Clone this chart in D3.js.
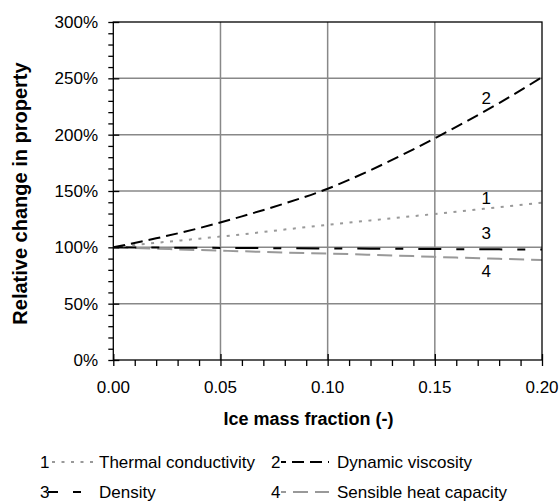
<!DOCTYPE html>
<html>
<head>
<meta charset="utf-8">
<script src="https://cdn.jsdelivr.net/npm/d3@7"></script>
<style>
  html, body { margin: 0; padding: 0; background: #fff; }
  svg { display: block; font-family: "Liberation Sans", Arial, sans-serif; }
</style>
</head>
<body>
<svg id="chart" width="559" height="502"></svg>
<script>
// Ice mass fraction (-) sampled along the x axis
const iceFraction = [0, 0.02, 0.04, 0.06, 0.08, 0.10, 0.12, 0.14, 0.16, 0.18, 0.20];

// Relative change of each property (%) at the ice fractions above
const thermalConductivity = [100, 104, 107.7, 111.5, 115.8, 120, 123.9, 127.7, 131.6, 135.6, 139.7];
const dynamicViscosity    = [100, 108, 117, 127.5, 139, 152, 168.5, 187, 207, 228, 251];
const density             = [100, 99.8, 99.6, 99.4, 99.2, 99.0, 98.8, 98.6, 98.4, 98.2, 98.0];
const sensibleHeatCap     = [100, 98.8, 97.6, 96.5, 95.4, 94.5, 93.4, 92.2, 90.9, 89.8, 88.7];

const seriesNames = ["Thermal conductivity", "Dynamic viscosity", "Density", "Sensible heat capacity"];
const seriesNumbers = ["1", "2", "3", "4"];

// Tick values
const xTicks = [0, 0.05, 0.10, 0.15, 0.20];
const yTicks = [0, 50, 100, 150, 200, 250, 300];

// Curve number labels placed next to each line: [x, y%]
const curveLabelPos = [[0.174, 143.7], [0.174, 232.5], [0.174, 112.7], [0.174, 79]];

const svg = d3.select("#chart");
const plotLeft = 113.3, plotRight = 542, plotTop = 22, plotBottom = 360;

const x = d3.scaleLinear().domain([0, 0.20]).range([plotLeft, plotRight]);
const y = d3.scaleLinear().domain([0, 300]).range([plotBottom, plotTop]);

// Grid lines
const grid = svg.append("g");
grid.selectAll("line.gx").data(xTicks.slice(1, -1)).join("line")
  .attr("x1", d => x(d)).attr("x2", d => x(d))
  .attr("y1", plotTop).attr("y2", plotBottom)
  .attr("stroke", "#888").attr("stroke-width", 1.5);
grid.selectAll("line.gy").data(yTicks.slice(1, -1)).join("line")
  .attr("x1", plotLeft).attr("x2", plotRight)
  .attr("y1", d => y(d)).attr("y2", d => y(d))
  .attr("stroke", "#888").attr("stroke-width", 1.5);

// Series styles
const styles = [
  { values: thermalConductivity, color: "#999", dash: "3,6.5", width: 2 },
  { values: dynamicViscosity,    color: "#000", dash: "12,6",  width: 2 },
  { values: density,             color: "#000", dash: "23,15,8,15", width: 2 },
  { values: sensibleHeatCap,     color: "#999", dash: "15,7",  width: 2 }
];

const line = d3.line().curve(d3.curveMonotoneX);

// Draw in order 4, 3, 1, 2 so dark lines stay on top
[3, 2, 0, 1].forEach(i => {
  const s = styles[i];
  svg.append("path")
    .attr("d", line(iceFraction.map((f, k) => [x(f), y(s.values[k])])))
    .attr("fill", "none")
    .attr("stroke", s.color)
    .attr("stroke-width", s.width)
    .attr("stroke-dasharray", s.dash);
});

// Plot frame
svg.append("rect")
  .attr("x", plotLeft).attr("y", plotTop)
  .attr("width", plotRight - plotLeft).attr("height", plotBottom - plotTop)
  .attr("fill", "none").attr("stroke", "#000").attr("stroke-width", 1.3);

// X axis
const xAxis = d3.axisBottom(x).tickValues(d3.range(0, 0.2001, 0.01)).tickSize(6).tickFormat("");
const gx = svg.append("g").attr("transform", `translate(0,${plotBottom})`).call(xAxis);
gx.select(".domain").remove();
gx.selectAll("line").attr("stroke", "#000").attr("stroke-width", 1.3);
gx.selectAll(".tick").filter(d => xTicks.some(t => Math.abs(t - d) < 1e-9))
  .select("line").attr("y1", -6).attr("y2", 6);
svg.append("g").selectAll("text").data(xTicks).join("text")
  .attr("x", d => x(d)).attr("y", 393)
  .attr("text-anchor", "middle").attr("font-size", 17)
  .text(d => d3.format(".2f")(d));

// Y axis
const yAxis = d3.axisLeft(y).tickValues(d3.range(0, 301, 10)).tickSize(5).tickFormat("");
const gy = svg.append("g").attr("transform", `translate(${plotLeft},0)`).call(yAxis);
gy.select(".domain").remove();
gy.selectAll("line").attr("stroke", "#000").attr("stroke-width", 1.3);
gy.selectAll(".tick").filter(d => yTicks.includes(d))
  .select("line").attr("x1", 6).attr("x2", -5);
svg.append("g").selectAll("text").data(yTicks).join("text")
  .attr("x", 98).attr("y", d => y(d)).attr("dy", "0.36em")
  .attr("text-anchor", "end").attr("font-size", 17)
  .text(d => d + "%");

// Axis titles
svg.append("text")
  .attr("x", 308.5).attr("y", 425)
  .attr("text-anchor", "middle").attr("font-size", 18).attr("font-weight", "bold")
  .text("Ice mass fraction (-)");
svg.append("text")
  .attr("transform", "translate(27,193.5) rotate(-90)")
  .attr("text-anchor", "middle").attr("font-size", 20).attr("font-weight", "bold")
  .text("Relative change in property");

// Curve number labels
svg.append("g").selectAll("text").data(curveLabelPos).join("text")
  .attr("x", d => x(d[0])).attr("y", d => y(d[1])).attr("dy", "0.36em")
  .attr("text-anchor", "middle").attr("font-size", 17)
  .text((d, i) => seriesNumbers[i]);

// Legend
const legendItems = [
  { num: 40,  lx1: 52,  lx2: 96,  tx: 99,  y: 462, off: 0 },
  { num: 271, lx1: 281, lx2: 329, tx: 337, y: 462, off: 7 },
  { num: 40,  lx1: 48,  lx2: 96,  tx: 99,  y: 492, off: 13 },
  { num: 271, lx1: 281, lx2: 329, tx: 337, y: 492, off: 10 }
];
const lg = svg.append("g");
legendItems.forEach((it, i) => {
  lg.append("text").attr("x", it.num).attr("y", it.y).attr("dy", "0.36em")
    .attr("font-size", 17).text(seriesNumbers[i]);
  lg.append("line")
    .attr("x1", it.lx1).attr("x2", it.lx2).attr("y1", it.y).attr("y2", it.y)
    .attr("stroke", styles[i].color).attr("stroke-width", styles[i].width)
    .attr("stroke-dasharray", styles[i].dash).attr("stroke-dashoffset", it.off);
  lg.append("text").attr("x", it.tx).attr("y", it.y).attr("dy", "0.36em")
    .attr("font-size", 17).text(seriesNames[i]);
});
</script>
</body>
</html>
